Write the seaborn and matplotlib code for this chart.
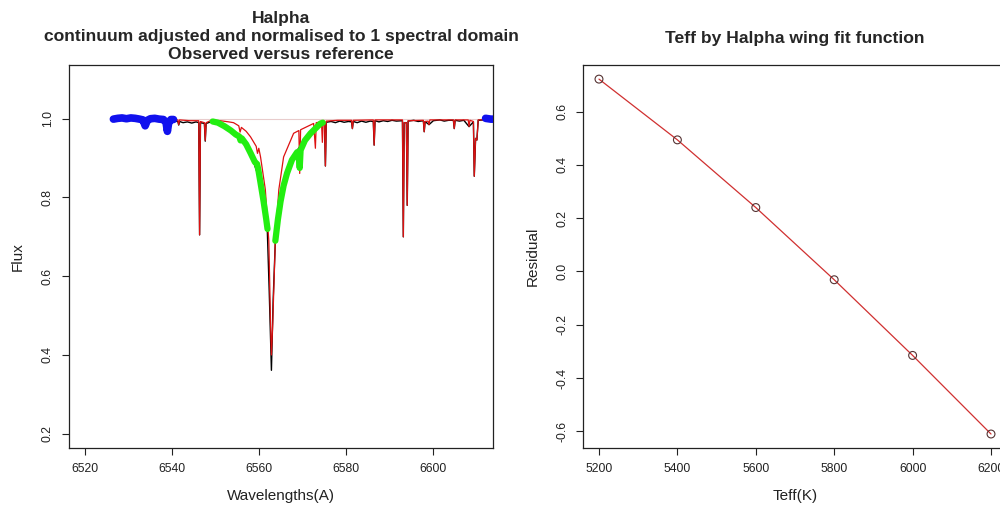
#!/usr/bin/env python3
# -*- coding: utf-8 -*-
"""
Halpha wing fit: observed vs reference spectrum, and residual vs Teff
"""
#%% Packages
import numpy as np
import matplotlib
matplotlib.use('Agg')
import matplotlib.pyplot as plt
import seaborn as sns

#%% Data

# reference (synthetic) spectrum, red
ref_wl = [6526.5, 6530.0, 6533.6, 6533.8, 6534.0, 6536.0, 6538.7, 6538.9, 6539.1, 6541.3,
          6541.5, 6541.7, 6544.0, 6546.1, 6546.3, 6546.5, 6547.4, 6547.6, 6547.8, 6549.0,
          6551.0, 6553.0, 6554.1, 6555.3, 6555.6, 6555.9, 6557.0, 6558.0, 6559.3, 6559.6,
          6559.9, 6560.3, 6561.4, 6562.2, 6562.6, 6562.8, 6563.1, 6563.7, 6564.5, 6565.6,
          6567.9, 6569.1, 6569.3, 6569.5, 6572.3, 6572.5, 6572.9, 6573.1, 6574.3, 6574.5,
          6574.7, 6575.0, 6575.2, 6575.4, 6578.0, 6581.2, 6581.4, 6581.6, 6586.2, 6586.4,
          6586.6, 6590.0, 6592.9, 6593.1, 6593.3, 6593.8, 6594.0, 6594.2, 6597.7, 6597.9,
          6598.1, 6598.8, 6599.0, 6599.2, 6604.6, 6604.8, 6605.0, 6608.0, 6608.2, 6608.4,
          6609.2, 6609.4, 6609.7, 6610.0, 6610.3, 6613.5]
ref_flux = [0.998, 0.998, 0.997, 0.985, 0.997, 0.998, 0.997, 0.970, 0.997, 0.997,
            0.985, 0.997, 0.995, 0.995, 0.705, 0.993, 0.990, 0.945, 0.990, 0.996,
            0.995, 0.992, 0.990, 0.982, 0.966, 0.978, 0.968, 0.954, 0.930, 0.912,
            0.925, 0.903, 0.820, 0.690, 0.480, 0.400, 0.480, 0.690, 0.820, 0.903,
            0.963, 0.970, 0.861, 0.972, 0.987, 0.988, 0.925, 0.990, 0.992, 0.940,
            0.992, 0.993, 0.880, 0.994, 0.996, 0.996, 0.975, 0.996, 0.997, 0.933,
            0.997, 0.997, 0.997, 0.700, 0.990, 0.990, 0.780, 0.995, 0.996, 0.967,
            0.993, 0.994, 0.985, 0.997, 0.997, 0.975, 0.997, 0.997, 0.980, 0.996,
            0.993, 0.854, 0.950, 0.946, 0.997, 0.998]

# observed spectrum, black
obs_wl = [6526.5, 6530.0, 6533.6, 6533.8, 6534.0, 6536.0, 6538.7, 6538.9, 6539.1, 6540.5,
          6541.3, 6541.5, 6541.7, 6542.5, 6543.5, 6544.5, 6545.5, 6546.1, 6546.3, 6546.5,
          6547.4, 6547.6, 6547.8, 6548.6, 6549.5, 6551.5, 6554.1, 6556.0, 6558.0, 6560.3,
          6561.8, 6562.3, 6562.8, 6563.2, 6563.7, 6564.9, 6566.4, 6568.7, 6571.8, 6574.1,
          6575.0, 6575.2, 6575.4, 6576.5, 6577.5, 6578.5, 6579.5, 6580.5, 6581.2, 6581.4,
          6581.6, 6582.5, 6583.5, 6584.5, 6585.5, 6586.2, 6586.4, 6586.6, 6587.5, 6588.5,
          6589.5, 6590.5, 6591.5, 6592.9, 6593.1, 6593.3, 6593.8, 6594.0, 6594.2, 6595.5,
          6596.5, 6597.7, 6597.9, 6598.1, 6599.0, 6600.0, 6601.5, 6602.5, 6603.5, 6604.6,
          6604.8, 6605.0, 6606.0, 6607.0, 6608.2, 6609.2, 6609.4, 6609.7, 6610.0, 6610.3,
          6611.5, 6613.5]
obs_flux = [0.999, 0.998, 0.997, 0.983, 0.997, 0.998, 0.997, 0.967, 0.996, 0.994,
            0.993, 0.984, 0.993, 0.990, 0.992, 0.989, 0.992, 0.990, 0.705, 0.990,
            0.988, 0.943, 0.988, 0.991, 0.992, 0.985, 0.964, 0.945, 0.913, 0.837,
            0.735, 0.560, 0.361, 0.540, 0.690, 0.790, 0.862, 0.920, 0.963, 0.988,
            0.990, 0.880, 0.991, 0.993, 0.990, 0.994, 0.991, 0.993, 0.992, 0.975,
            0.993, 0.990, 0.994, 0.991, 0.994, 0.993, 0.933, 0.995, 0.992, 0.995,
            0.993, 0.996, 0.994, 0.995, 0.700, 0.990, 0.990, 0.780, 0.994, 0.996,
            0.993, 0.995, 0.967, 0.993, 0.985, 0.995, 0.997, 0.994, 0.996, 0.996,
            0.975, 0.996, 0.994, 0.996, 0.980, 0.992, 0.854, 0.950, 0.946, 0.996,
            0.997, 0.998]

# continuum windows, blue points
blue_left_wl = [6526.5, 6527.5, 6528.5, 6529.5, 6530.5, 6531.5, 6532.5, 6533.3, 6533.8, 6534.3,
                6535.0, 6536.0, 6537.0, 6538.0, 6538.6, 6538.9, 6539.2, 6539.7, 6540.3]
blue_left_flux = [0.999, 1.001, 1.002, 1.000, 1.002, 1.001, 0.999, 0.997, 0.982, 0.996,
                  1.000, 1.001, 0.999, 0.998, 0.990, 0.968, 0.990, 0.998, 0.998]
blue_right_wl = [6612.0, 6612.6, 6613.2, 6613.7]
blue_right_flux = [1.001, 1.000, 0.999, 0.999]

# Halpha wing windows, green points
green_left_wl = [6549.3, 6550.5, 6552.0, 6553.5, 6554.6, 6555.4, 6555.7, 6556.0, 6557.0, 6558.0,
                 6559.0, 6559.5, 6559.8, 6560.3, 6561.0, 6561.6, 6561.9]
green_left_flux = [0.993, 0.990, 0.981, 0.970, 0.960, 0.955, 0.945, 0.950, 0.935, 0.913,
                   0.890, 0.885, 0.870, 0.837, 0.790, 0.745, 0.720]
green_right_wl = [6563.7, 6564.3, 6564.9, 6565.6, 6566.4, 6567.5, 6568.7, 6569.1, 6569.3, 6569.5,
                  6570.5, 6571.8, 6572.9, 6574.1, 6574.6]
green_right_flux = [0.690, 0.745, 0.790, 0.830, 0.862, 0.895, 0.915, 0.905, 0.875, 0.920,
                    0.945, 0.963, 0.975, 0.988, 0.990]

# residual of the wing fit against Teff
teff = [5200, 5400, 5600, 5800, 6000, 6200]
residual = [0.722, 0.494, 0.240, -0.031, -0.315, -0.610]

#%% Style

sns.set_style('white')
plt.rcParams['font.family'] = ['Liberation Sans', 'DejaVu Sans']

fig = plt.figure(figsize=(10, 5.13), dpi=100)
ax1 = fig.add_axes([0.069, 0.1267, 0.424, 0.7466])
ax2 = fig.add_axes([0.5833, 0.1267, 0.4234, 0.7466])


def r_style(ax):
    for s in ax.spines.values():
        s.set_color('#222222')
        s.set_linewidth(0.9)
        s.set_visible(True)
    ax.tick_params(axis='both', direction='out', length=5, width=0.8, color='#222222',
                   labelsize=8.8, labelcolor='#222222', pad=6, bottom=True, left=True)
    for lab in ax.get_yticklabels():
        lab.set_rotation(90)
        lab.set_va('center')


#%% Left: spectrum

ax1.hlines(1.0, min(ref_wl), max(ref_wl), color='#e8cccc', lw=0.8, zorder=1)
sns.lineplot(x=obs_wl, y=obs_flux, ax=ax1, color='black', lw=1.0, estimator=None, sort=False, zorder=2)
sns.lineplot(x=ref_wl, y=ref_flux, ax=ax1, color='#dd1111', lw=0.9, estimator=None, sort=False, zorder=3)
for gx, gy in [(green_left_wl, green_left_flux), (green_right_wl, green_right_flux)]:
    sns.lineplot(x=gx, y=gy, ax=ax1, color='#22ee11', lw=4.5, estimator=None, sort=False,
                 solid_capstyle='round', zorder=4)
for bx, by in [(blue_left_wl, blue_left_flux), (blue_right_wl, blue_right_flux)]:
    sns.lineplot(x=bx, y=by, ax=ax1, color='#1111ee', lw=5.5, estimator=None, sort=False,
                 solid_capstyle='round', zorder=5)

ax1.set_xlim(6516.3, 6613.7)
ax1.set_ylim(0.1636, 1.1365)
ax1.set_xticks([6520, 6540, 6560, 6580, 6600])
ax1.set_yticks([0.2, 0.4, 0.6, 0.8, 1.0])
ax1.set_yticklabels(['0.2', '0.4', '0.6', '0.8', '1.0'])
ax1.set_xlabel('Wavelengths(A)', fontsize=11, color='#222222', labelpad=10)
ax1.set_ylabel('Flux', fontsize=11, color='#222222', labelpad=12)
ax1.set_title('Halpha\ncontinuum adjusted and normalised to 1 spectral domain\nObserved versus reference',
              fontsize=12.6, fontweight='bold', linespacing=1.22, pad=4.5)
r_style(ax1)

#%% Right: residual vs Teff

sns.lineplot(x=teff, y=residual, ax=ax2, color='#d03030', lw=0.9, estimator=None, zorder=2)
sns.scatterplot(x=teff, y=residual, ax=ax2, marker='o', s=32, facecolor='none',
                edgecolor='#553333', linewidth=0.8, zorder=3)

ax2.set_xlim(5160, 6240)
ax2.set_ylim(-0.6625, 0.775)
ax2.set_xticks([5200, 5400, 5600, 5800, 6000, 6200])
ax2.set_yticks([-0.6, -0.4, -0.2, 0.0, 0.2, 0.4, 0.6])
ax2.set_yticklabels(['-0.6', '-0.4', '-0.2', '0.0', '0.2', '0.4', '0.6'])
ax2.set_xlabel('Teff(K)', fontsize=11, color='#222222', labelpad=10)
ax2.set_ylabel('Residual', fontsize=11, color='#222222', labelpad=12)
ax2.set_title('Teff by Halpha wing fit function', fontsize=12.6, fontweight='bold', pad=16)
r_style(ax2)

fig.savefig('out.png', dpi=100)
